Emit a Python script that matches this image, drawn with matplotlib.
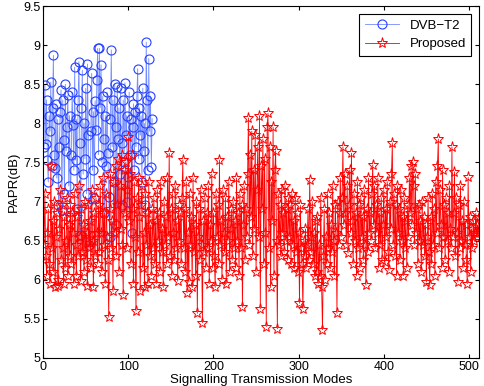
import numpy as np
from matplotlib import pyplot as plt

plt.rcParams['font.family'] = ['Liberation Sans', 'DejaVu Sans']

# PAPR of DVB-T2 signalling (128 modes)
papr_dvbt2 = [
    7.70, 8.49, 7.74, 8.30, 7.53, 7.25, 8.10, 7.90, 8.53, 7.45, 8.20, 8.87, 7.60, 7.43, 8.25, 7.30,
    8.05, 6.95, 7.70, 8.15, 8.43, 6.89, 8.30, 7.79, 7.10, 8.50, 7.65, 7.95, 8.36, 7.20, 8.10, 6.80,
    7.60, 8.40, 7.98, 7.40, 8.72, 7.53, 8.05, 6.90, 8.30, 8.79, 7.75, 6.57, 8.20, 8.68, 7.35, 8.00,
    7.55, 8.45, 7.10, 8.76, 7.85, 6.45, 6.49, 7.90, 8.64, 7.40, 8.15, 7.05, 8.29, 7.91, 8.55, 8.96,
    7.60, 8.96, 8.20, 8.75, 7.50, 8.35, 7.80, 6.85, 8.10, 7.45, 8.40, 7.62, 7.06, 6.55, 8.05, 8.94,
    7.70, 8.30, 7.25, 8.50, 7.95, 6.70, 8.47, 7.80, 8.20, 7.35, 8.45, 6.95, 7.75, 8.30, 7.50, 8.52,
    7.85, 8.10, 7.00, 7.32, 8.40, 7.60, 8.05, 6.60, 7.95, 8.25, 7.40, 8.15, 7.70, 8.35, 8.70, 7.55,
    8.20, 7.85, 8.10, 7.25, 8.45, 7.65, 8.00, 6.95, 9.04, 8.30, 7.40, 8.83, 7.90, 8.35, 7.44, 8.06,
]

# PAPR of the proposed scheme (512 modes)
papr_proposed = [
    6.45, 7.10, 6.30, 6.05, 6.60, 6.90, 6.20, 5.95, 7.45, 6.40, 6.75, 6.10, 7.00, 5.90, 6.55, 6.85,
    6.00, 5.92, 6.65, 7.15, 6.25, 6.95, 6.40, 5.95, 6.80, 6.15, 6.50, 7.05, 6.05, 6.70, 6.30, 6.95,
    6.20, 6.85, 6.60, 5.95, 7.10, 6.45, 6.05, 6.80, 6.30, 7.20, 6.55, 5.98, 6.90, 6.35, 6.70, 6.10,
    7.00, 6.25, 6.60, 5.92, 6.95, 6.40, 6.75, 6.15, 7.15, 6.50, 5.90, 6.85, 6.30, 7.05, 6.60, 6.20,
    6.95, 6.35, 7.20, 6.60, 6.10, 7.30, 6.45, 6.85, 5.95, 7.10, 6.55, 6.25, 5.52, 6.90, 7.35, 6.40,
    6.75, 5.85, 7.25, 6.60, 7.45, 6.30, 6.95, 7.55, 6.10, 7.20, 6.65, 7.60, 6.45, 5.80, 7.40, 6.85,
    7.50, 6.40, 7.15, 7.82, 6.75, 7.35, 6.20, 7.60, 6.90, 5.95, 7.25, 6.55, 5.60, 7.05, 6.35, 7.30,
    6.80, 5.85, 6.95, 7.20, 6.15, 6.60, 5.90, 7.10, 6.45, 6.85, 5.95, 7.25, 6.30, 6.70, 6.05, 6.90,
    6.40, 7.05, 6.20, 6.75, 5.95, 7.15, 6.50, 6.85, 6.10, 7.25, 6.35, 6.65, 5.90, 7.00, 6.45, 6.80,
    6.20, 7.30, 6.55, 7.62, 6.30, 6.90, 6.05, 7.10, 6.60, 6.25, 7.20, 6.40, 6.75, 5.98, 6.95, 6.50,
    6.85, 6.20, 7.05, 7.53, 6.40, 6.90, 6.10, 7.25, 5.83, 6.60, 5.97, 7.10, 6.45, 6.80, 5.90, 7.30,
    6.35, 6.70, 6.05, 7.00, 5.57, 6.55, 6.90, 6.25, 7.15, 6.45, 5.45, 6.75, 6.35, 7.05, 6.15, 6.85,
    6.40, 7.20, 5.95, 6.70, 6.50, 7.35, 6.15, 6.85, 6.30, 5.90, 7.10, 6.55, 6.95, 6.20, 7.53, 6.45,
    6.75, 6.00, 7.15, 6.60, 6.35, 7.05, 5.95, 6.80, 6.50, 7.25, 6.10, 6.65, 6.90, 6.25, 7.00, 6.40,
    6.75, 6.15, 7.30, 6.50, 6.85, 6.05, 7.10, 6.40, 6.95, 5.65, 6.70, 7.20, 6.25, 6.90, 6.55, 7.35,
    8.07, 6.45, 7.60, 6.80, 7.90, 6.30, 7.40, 6.65, 7.85, 6.10, 7.15, 7.70, 6.55, 8.10, 5.63, 7.45,
    6.90, 7.80, 6.20, 7.55, 6.60, 5.40, 7.95, 8.13, 6.40, 7.70, 5.90, 7.25, 6.75, 7.95, 6.05, 7.40,
    7.65, 6.50, 5.37, 7.10, 6.45, 6.95, 6.30, 7.15, 6.60, 6.85, 6.35, 7.20, 6.50, 6.90, 6.25, 7.05,
    6.55, 6.95, 6.20, 7.10, 6.45, 6.75, 6.15, 7.05, 6.35, 6.85, 6.10, 6.60, 5.70, 6.95, 6.40, 6.20,
    5.63, 6.50, 6.30, 6.65, 6.15, 6.45, 6.90, 6.25, 7.28, 6.55, 6.35, 7.00, 6.20, 6.60, 6.05, 6.75,
    6.10, 6.80, 5.95, 6.45, 6.05, 7.05, 5.90, 5.36, 6.30, 6.90, 6.00, 6.55, 6.20, 7.10, 6.40, 6.85,
    6.15, 6.70, 6.35, 7.20, 6.50, 6.05, 6.95, 6.60, 5.57, 7.00, 6.45, 6.85, 7.30, 6.55, 7.05, 7.70,
    6.70, 7.35, 6.85, 6.45, 7.20, 6.34, 6.95, 7.40, 6.60, 7.62, 6.75, 6.20, 7.10, 6.50, 6.85, 6.05,
    7.25, 6.40, 6.95, 6.15, 7.05, 6.55, 6.80, 6.25, 7.15, 6.45, 5.93, 6.90, 6.35, 7.30, 6.60, 6.85,
    6.50, 7.10, 7.47, 6.70, 7.20, 6.40, 6.95, 6.60, 7.30, 6.15, 6.85, 6.45, 7.05, 6.25, 6.70, 7.15,
    6.23, 6.90, 6.55, 7.25, 6.35, 6.12, 7.00, 6.65, 7.35, 7.75, 6.45, 7.10, 6.30, 6.95, 6.05, 7.20,
    6.60, 6.90, 6.25, 7.15, 6.50, 6.80, 6.05, 7.05, 6.40, 6.75, 6.15, 6.95, 6.55, 7.30, 6.85, 7.45,
    6.70, 7.50, 7.20, 6.45, 7.35, 6.60, 6.90, 6.20, 6.95, 6.50, 6.75, 6.10, 7.00, 6.45, 6.80, 6.30,
    6.70, 5.97, 6.55, 7.05, 6.35, 5.93, 6.80, 6.20, 7.10, 6.45, 6.90, 6.05, 7.25, 6.60, 7.45, 7.80,
    6.40, 7.15, 6.70, 6.15, 7.40, 6.55, 6.95, 6.25, 7.05, 6.50, 6.85, 6.10, 7.20, 6.65, 6.40, 7.70,
    6.55, 6.85, 7.38, 6.30, 7.05, 6.60, 5.97, 6.95, 6.40, 7.20, 6.50, 6.75, 6.15, 7.00, 6.45, 6.70,
    6.25, 5.95, 7.31, 6.55, 6.80, 6.10, 6.65, 6.40, 6.75, 6.50, 6.60, 6.85, 6.55, 6.70, 6.60, 6.80,
]

x_dvbt2 = np.arange(1, len(papr_dvbt2) + 1)
x_proposed = np.arange(1, len(papr_proposed) + 1)

fig = plt.figure(figsize=(4.85, 3.86), dpi=100)
ax = fig.add_axes([0.089, 0.073, 0.899, 0.911])

ax.plot(x_dvbt2, papr_dvbt2, color=(0.45, 0.55, 1.0), linewidth=0.6,
        marker="o", markersize=6.5, markerfacecolor="none",
        markeredgecolor=(0.15, 0.25, 1.0), markeredgewidth=0.8,
        label="DVB\u2212T2")
ax.plot(x_proposed, papr_proposed, color="red", linewidth=0.6,
        marker="*", markersize=8, markerfacecolor="none",
        markeredgewidth=0.7, label="Proposed")

ax.set_xlim(0, 512)
ax.set_ylim(5, 9.5)
ax.set_xticks([0, 100, 200, 300, 400, 500])
ax.set_yticks([5, 5.5, 6, 6.5, 7, 7.5, 8, 8.5, 9, 9.5])
ax.set_yticklabels(["5", "5.5", "6", "6.5", "7", "7.5", "8", "8.5", "9", "9.5"])
ax.tick_params(direction="in", top=True, right=True, labelsize=9, length=3, pad=2)
ax.set_xlabel("Signalling Transmission Modes", fontsize=9.5, labelpad=1)
ax.set_ylabel("PAPR(dB)", fontsize=9.5, labelpad=2)

leg = ax.legend(loc="upper right", fontsize=9.5, fancybox=False, framealpha=1,
                edgecolor="black", borderaxespad=0.6, handlelength=2.6)
leg.get_frame().set_linewidth(0.8)

fig.savefig("out.png", dpi=100)
